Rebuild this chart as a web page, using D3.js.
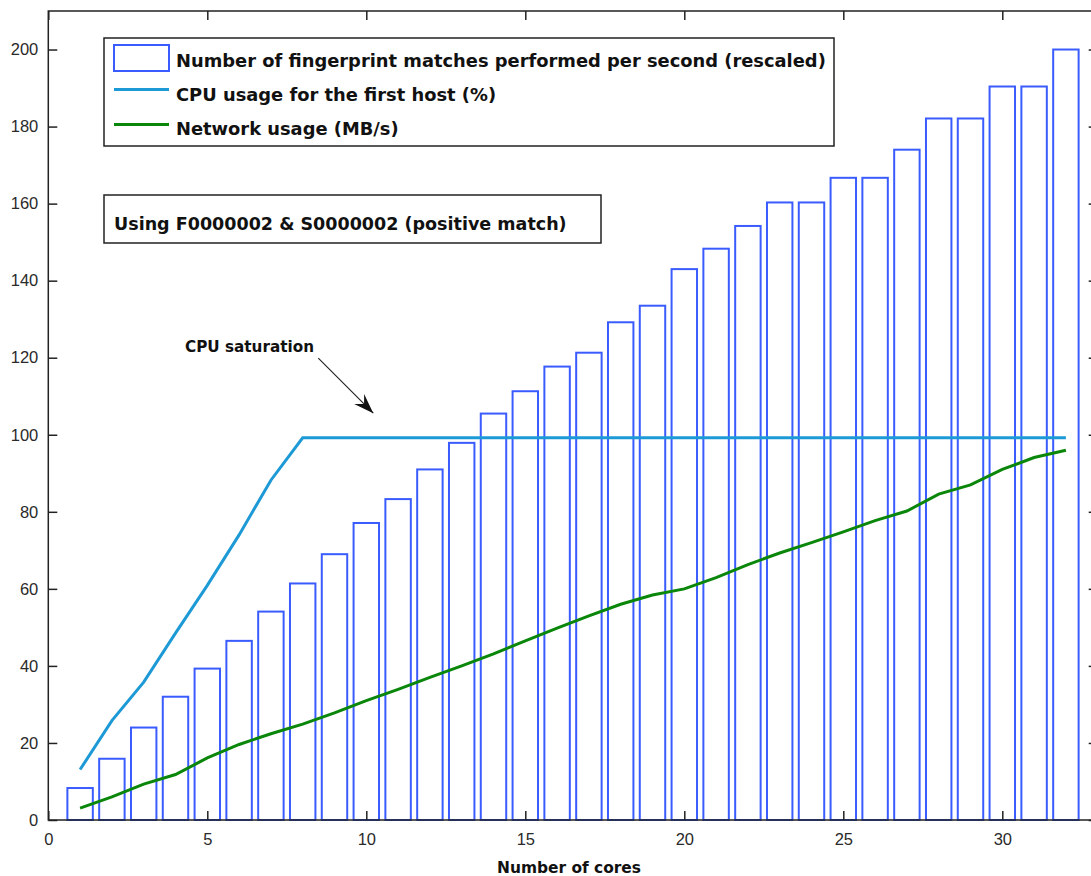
<!DOCTYPE html>
<html>
<head>
<meta charset="utf-8">
<script src="https://cdn.jsdelivr.net/npm/d3@7"></script>
<style>
  html, body { margin: 0; padding: 0; background: #fff; overflow: hidden; }
  svg { display: block; }
</style>
</head>
<body>
<svg id="chart" width="1091" height="876"></svg>
<script>
// ---- data ----
const cores = d3.range(1, 33);
const matches = [8.3, 15.9, 24.0, 32.0, 39.3, 46.5, 54.1, 61.4, 69.0, 77.1,
                 83.3, 91.0, 97.9, 105.5, 111.3, 117.7, 121.3, 129.2, 133.5, 143.0,
                 148.3, 154.2, 160.3, 160.3, 166.7, 166.7, 174.0, 182.1, 182.1, 190.4,
                 190.4, 200.0];
const cpu = [13.1, 25.8, 35.8, 48.5, 60.9, 74.0, 88.2, 99.2, 99.2, 99.2,
             99.2, 99.2, 99.2, 99.2, 99.2, 99.2, 99.2, 99.2, 99.2, 99.2,
             99.2, 99.2, 99.2, 99.2, 99.2, 99.2, 99.2, 99.2, 99.2, 99.2,
             99.2, 99.2];
const network = [3.1, 6.0, 9.3, 11.8, 16.1, 19.6, 22.4, 24.9, 27.8, 31.0,
                 33.9, 37.0, 40.0, 43.1, 46.5, 49.8, 53.0, 56.0, 58.4, 60.0,
                 62.9, 66.3, 69.3, 72.0, 74.8, 77.7, 80.2, 84.6, 87.0, 91.0,
                 94.1, 96.0];
const xTicks = [0, 5, 10, 15, 20, 25, 30];
const yTicks = [0, 20, 40, 60, 80, 100, 120, 140, 160, 180, 200];
const legendLabels = ["Number of fingerprint matches performed per second (rescaled)",
                      "CPU usage for the first host (%)",
                      "Network usage (MB/s)"];
const noteText = "Using F0000002 & S0000002 (positive match)";
const annotText = "CPU saturation";
const xLabel = "Number of cores";

// ---- layout ----
const svg = d3.select("#chart");
const L = 48.3, T = 11, B = 820, R = 48.3 + 33 * 31.8;
const x = d3.scaleLinear().domain([0, 33]).range([L, R]);
const y = d3.scaleLinear().domain([0, 210]).range([B, T]);

const barColor = "#3a5cff", cpuColor = "#1d9ad6", netColor = "#0a870a";
const axisColor = "#222";
const font = "'Liberation Sans', Arial, sans-serif";
const labelFont = "'DejaVu Sans', sans-serif";

function fit(sel, target) {
  const w = sel.node().getComputedTextLength();
  const fs = parseFloat(sel.attr("font-size"));
  sel.attr("font-size", (fs * target / w).toFixed(2));
  return sel;
}

// bars
const bw = 0.8;
svg.append("g").selectAll("rect").data(cores).join("rect")
  .attr("x", (d) => x(d - bw / 2))
  .attr("width", x(bw) - x(0))
  .attr("y", (d, i) => y(matches[i]))
  .attr("height", (d, i) => y(0) - y(matches[i]))
  .attr("fill", "none").attr("stroke", barColor).attr("stroke-width", 2);

// lines
const line = (arr) => d3.line().x((d, i) => x(cores[i])).y((d) => y(d))(arr);
svg.append("path").attr("d", line(cpu)).attr("fill", "none")
  .attr("stroke", cpuColor).attr("stroke-width", 3);
svg.append("path").attr("d", line(network)).attr("fill", "none")
  .attr("stroke", netColor).attr("stroke-width", 3);

// axes frame
svg.append("rect").attr("x", L).attr("y", T).attr("width", R - L).attr("height", B - T)
  .attr("fill", "none").attr("stroke", axisColor).attr("stroke-width", 1.5);

const tickLen = 9;
const gx = svg.append("g").attr("transform", `translate(0,${B})`)
  .call(d3.axisBottom(x).tickValues(xTicks).tickSize(-tickLen).tickPadding(13));
const gxt = svg.append("g").attr("transform", `translate(0,${T})`)
  .call(d3.axisTop(x).tickValues(xTicks).tickSize(-tickLen).tickFormat(""));
const gy = svg.append("g").attr("transform", `translate(${L},0)`)
  .call(d3.axisLeft(y).tickValues(yTicks).tickSize(-tickLen).tickPadding(10));
const gyr = svg.append("g").attr("transform", `translate(${R},0)`)
  .call(d3.axisRight(y).tickValues(yTicks).tickSize(-tickLen).tickFormat(""));
[gx, gxt, gy, gyr].forEach((g) => {
  g.select(".domain").remove();
  g.selectAll(".tick line").attr("stroke", axisColor).attr("stroke-width", 1.5);
  g.selectAll(".tick text").attr("fill", "#2a2a2a").attr("font-family", font).attr("font-size", 16.5);
});

// x label
fit(svg.append("text").attr("x", 569).attr("y", 873).attr("text-anchor", "middle")
  .attr("font-family", labelFont).attr("font-weight", "bold").attr("font-size", 15)
  .attr("fill", "#111").text(xLabel), 144);

// legend box
const leg = svg.append("g");
leg.append("rect").attr("x", 104).attr("y", 38).attr("width", 730).attr("height", 108)
  .attr("fill", "#fff").attr("stroke", axisColor).attr("stroke-width", 1.5);
leg.append("rect").attr("x", 114).attr("y", 45).attr("width", 55).attr("height", 26)
  .attr("fill", "none").attr("stroke", barColor).attr("stroke-width", 2);
leg.append("line").attr("x1", 114).attr("x2", 169).attr("y1", 89.5).attr("y2", 89.5)
  .attr("stroke", cpuColor).attr("stroke-width", 3);
leg.append("line").attr("x1", 114).attr("x2", 169).attr("y1", 124.5).attr("y2", 124.5)
  .attr("stroke", netColor).attr("stroke-width", 3);
const baselines = [67, 101, 135];
const legTexts = leg.selectAll("text.lg").data(legendLabels).join("text").attr("class", "lg")
  .attr("x", 176).attr("y", (d, i) => baselines[i])
  .attr("font-family", labelFont).attr("font-size", 18).attr("font-weight", "bold")
  .attr("fill", "#111").text((d) => d);
fit(d3.select(legTexts.nodes()[0]), 650);
legTexts.attr("font-size", d3.select(legTexts.nodes()[0]).attr("font-size"));

// note box
svg.append("rect").attr("x", 104).attr("y", 195).attr("width", 497).attr("height", 48)
  .attr("fill", "#fff").attr("stroke", axisColor).attr("stroke-width", 1.5);
fit(svg.append("text").attr("x", 114).attr("y", 230)
  .attr("font-family", labelFont).attr("font-size", 18).attr("font-weight", "bold")
  .attr("fill", "#111").text(noteText), 453);

// annotation
fit(svg.append("text").attr("x", x(4.3)).attr("y", y(121.5))
  .attr("font-family", labelFont).attr("font-size", 14).attr("font-weight", "bold")
  .attr("fill", "#111").text(annotText), 129);
const ax1 = x(8.49), ay1 = y(119.9), ax2 = x(10.22), ay2 = y(105.6);
svg.append("line").attr("x1", ax1).attr("y1", ay1).attr("x2", ax2).attr("y2", ay2)
  .attr("stroke", "#222").attr("stroke-width", 1.2);
const ang = Math.atan2(ay2 - ay1, ax2 - ax1);
const hl = 20, hw = 7;
const bx = ax2 - hl * Math.cos(ang), by = ay2 - hl * Math.sin(ang);
const px = -Math.sin(ang) * hw, py = Math.cos(ang) * hw;
svg.append("path")
  .attr("d", `M${ax2},${ay2}L${bx + px},${by + py}L${bx + 0.35 * hl * Math.cos(ang)},${by + 0.35 * hl * Math.sin(ang)}L${bx - px},${by - py}Z`)
  .attr("fill", "#111");
</script>
</body>
</html>
